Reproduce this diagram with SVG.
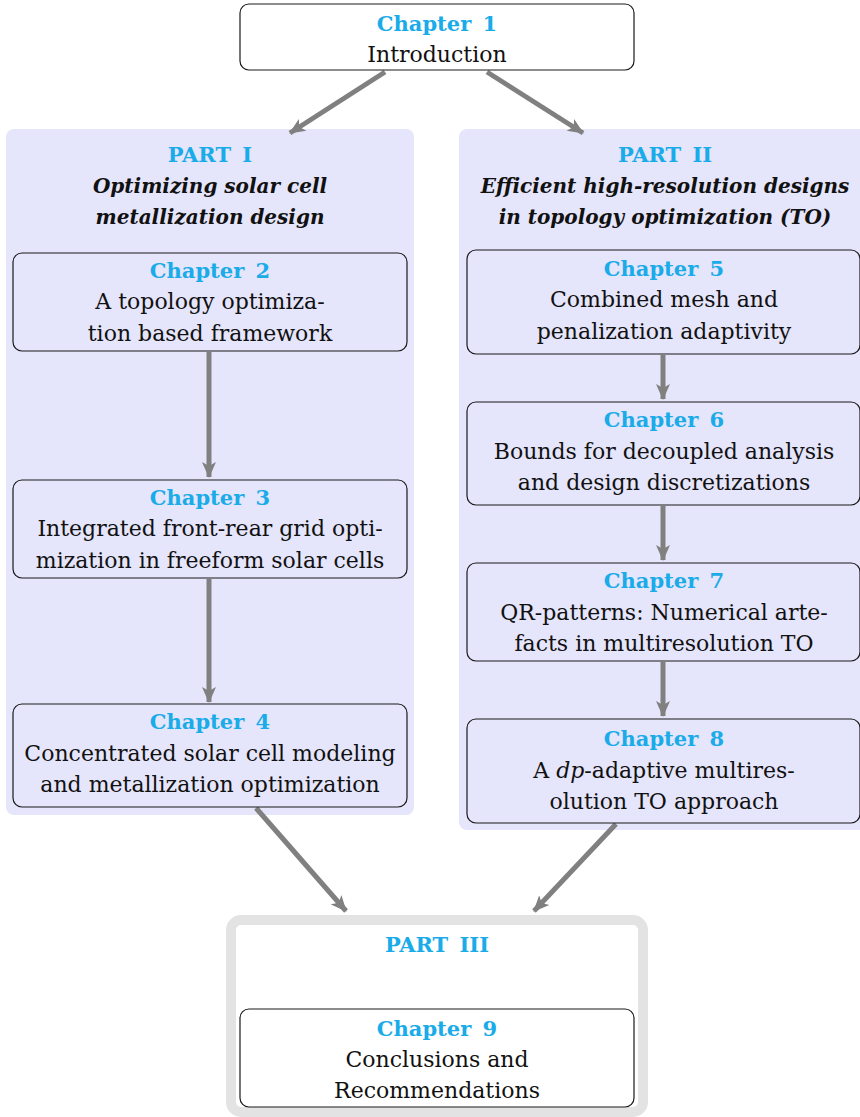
<svg xmlns="http://www.w3.org/2000/svg" width="860" height="1117" viewBox="0 0 860 1117">
<style>
.bg{fill:#e5e5fb}
.box{fill:#ffffff;stroke:#1a1a1a;stroke-width:1.2}
.pbox{fill:#e5e5fb;stroke:#1a1a1a;stroke-width:1.2}
.t{font-family:"DejaVu Serif",serif;font-size:22px;fill:#111;text-anchor:middle}
.h{font-family:"DejaVu Serif",serif;font-size:21px;font-weight:bold;fill:#1aabe9;text-anchor:middle;word-spacing:4px}
.it{font-family:"DejaVu Serif",serif;font-size:20px;font-weight:bold;font-style:italic;fill:#111;text-anchor:middle}
.c{stroke:#808080;stroke-width:5;fill:none;marker-end:url(#ah)}
</style>
<defs>
<marker id="ah" markerUnits="userSpaceOnUse" viewBox="0 0 16 16" refX="15" refY="8" markerWidth="16" markerHeight="16" orient="auto">
<path d="M0,1 L16,8 L0,15 L4,8 z" fill="#808080"/>
</marker>
</defs>
<rect class="bg" x="6" y="129" width="408" height="686" rx="8"/>
<rect class="bg" x="459" y="129" width="410" height="701" rx="8"/>
<rect x="231" y="920" width="412" height="192" rx="10" fill="#ffffff" stroke="#e3e3e3" stroke-width="10"/>
<g id="connectors">
<line class="c" x1="385" y1="72" x2="290" y2="133"/>
<line class="c" x1="487" y1="72" x2="583" y2="133"/>
<line class="c" x1="209" y1="352" x2="209" y2="477"/>
<line class="c" x1="209" y1="579" x2="209" y2="702"/>
<line class="c" x1="663" y1="355" x2="663" y2="399"/>
<line class="c" x1="663" y1="506" x2="663" y2="560"/>
<line class="c" x1="663" y1="662" x2="663" y2="716"/>
<line class="c" x1="256" y1="808" x2="346" y2="911"/>
<line class="c" x1="616" y1="824" x2="534" y2="911"/>
</g>
<g id="ch1">
<rect class="box" x="240" y="4" width="394" height="66" rx="9"/>
<text class="h" x="437" y="31">Chapter 1</text>
<text class="t" x="437" y="62">Introduction</text>
</g>
<g id="part1">
<text class="h" x="210" y="162">PART I</text>
<text class="it" x="210" y="193">Optimizing solar cell</text>
<text class="it" x="210" y="224">metallization design</text>
</g>
<g id="ch2">
<rect class="pbox" x="13" y="253" width="394" height="98" rx="9"/>
<text class="h" x="210" y="278">Chapter 2</text>
<text class="t" x="210" y="309">A topology optimiza-</text>
<text class="t" x="210" y="341">tion based framework</text>
</g>
<g id="ch3">
<rect class="pbox" x="13" y="480" width="394" height="98" rx="9"/>
<text class="h" x="210" y="505">Chapter 3</text>
<text class="t" x="210" y="536">Integrated front-rear grid opti-</text>
<text class="t" x="210" y="568">mization in freeform solar cells</text>
</g>
<g id="ch4">
<rect class="pbox" x="13" y="704" width="394" height="103" rx="9"/>
<text class="h" x="210" y="729">Chapter 4</text>
<text class="t" x="210" y="761">Concentrated solar cell modeling</text>
<text class="t" x="210" y="792">and metallization optimization</text>
</g>
<g id="part2">
<text class="h" x="665" y="162">PART II</text>
<text class="it" x="665" y="193">Efficient high-resolution designs</text>
<text class="it" x="665" y="224">in topology optimization (TO)</text>
</g>
<g id="ch5">
<rect class="pbox" x="467" y="250" width="393" height="104" rx="9"/>
<text class="h" x="664" y="276">Chapter 5</text>
<text class="t" x="664" y="307">Combined mesh and</text>
<text class="t" x="664" y="339">penalization adaptivity</text>
</g>
<g id="ch6">
<rect class="pbox" x="467" y="402" width="393" height="103" rx="9"/>
<text class="h" x="664" y="427">Chapter 6</text>
<text class="t" x="664" y="459">Bounds for decoupled analysis</text>
<text class="t" x="664" y="490">and design discretizations</text>
</g>
<g id="ch7">
<rect class="pbox" x="467" y="563" width="393" height="98" rx="9"/>
<text class="h" x="664" y="588">Chapter 7</text>
<text class="t" x="664" y="620">QR-patterns: Numerical arte-</text>
<text class="t" x="664" y="651">facts in multiresolution TO</text>
</g>
<g id="ch8">
<rect class="pbox" x="467" y="719" width="393" height="104" rx="9"/>
<text class="h" x="664" y="746">Chapter 8</text>
<text class="t" x="664" y="778">A <tspan font-style="italic">dp</tspan>-adaptive multires-</text>
<text class="t" x="664" y="809">olution TO approach</text>
</g>
<g id="part3">
<text class="h" x="437" y="952">PART III</text>
</g>
<g id="ch9">
<rect class="box" x="240" y="1009" width="394" height="98" rx="9"/>
<text class="h" x="437" y="1036">Chapter 9</text>
<text class="t" x="437" y="1067">Conclusions and</text>
<text class="t" x="437" y="1098">Recommendations</text>
</g>
</svg>
